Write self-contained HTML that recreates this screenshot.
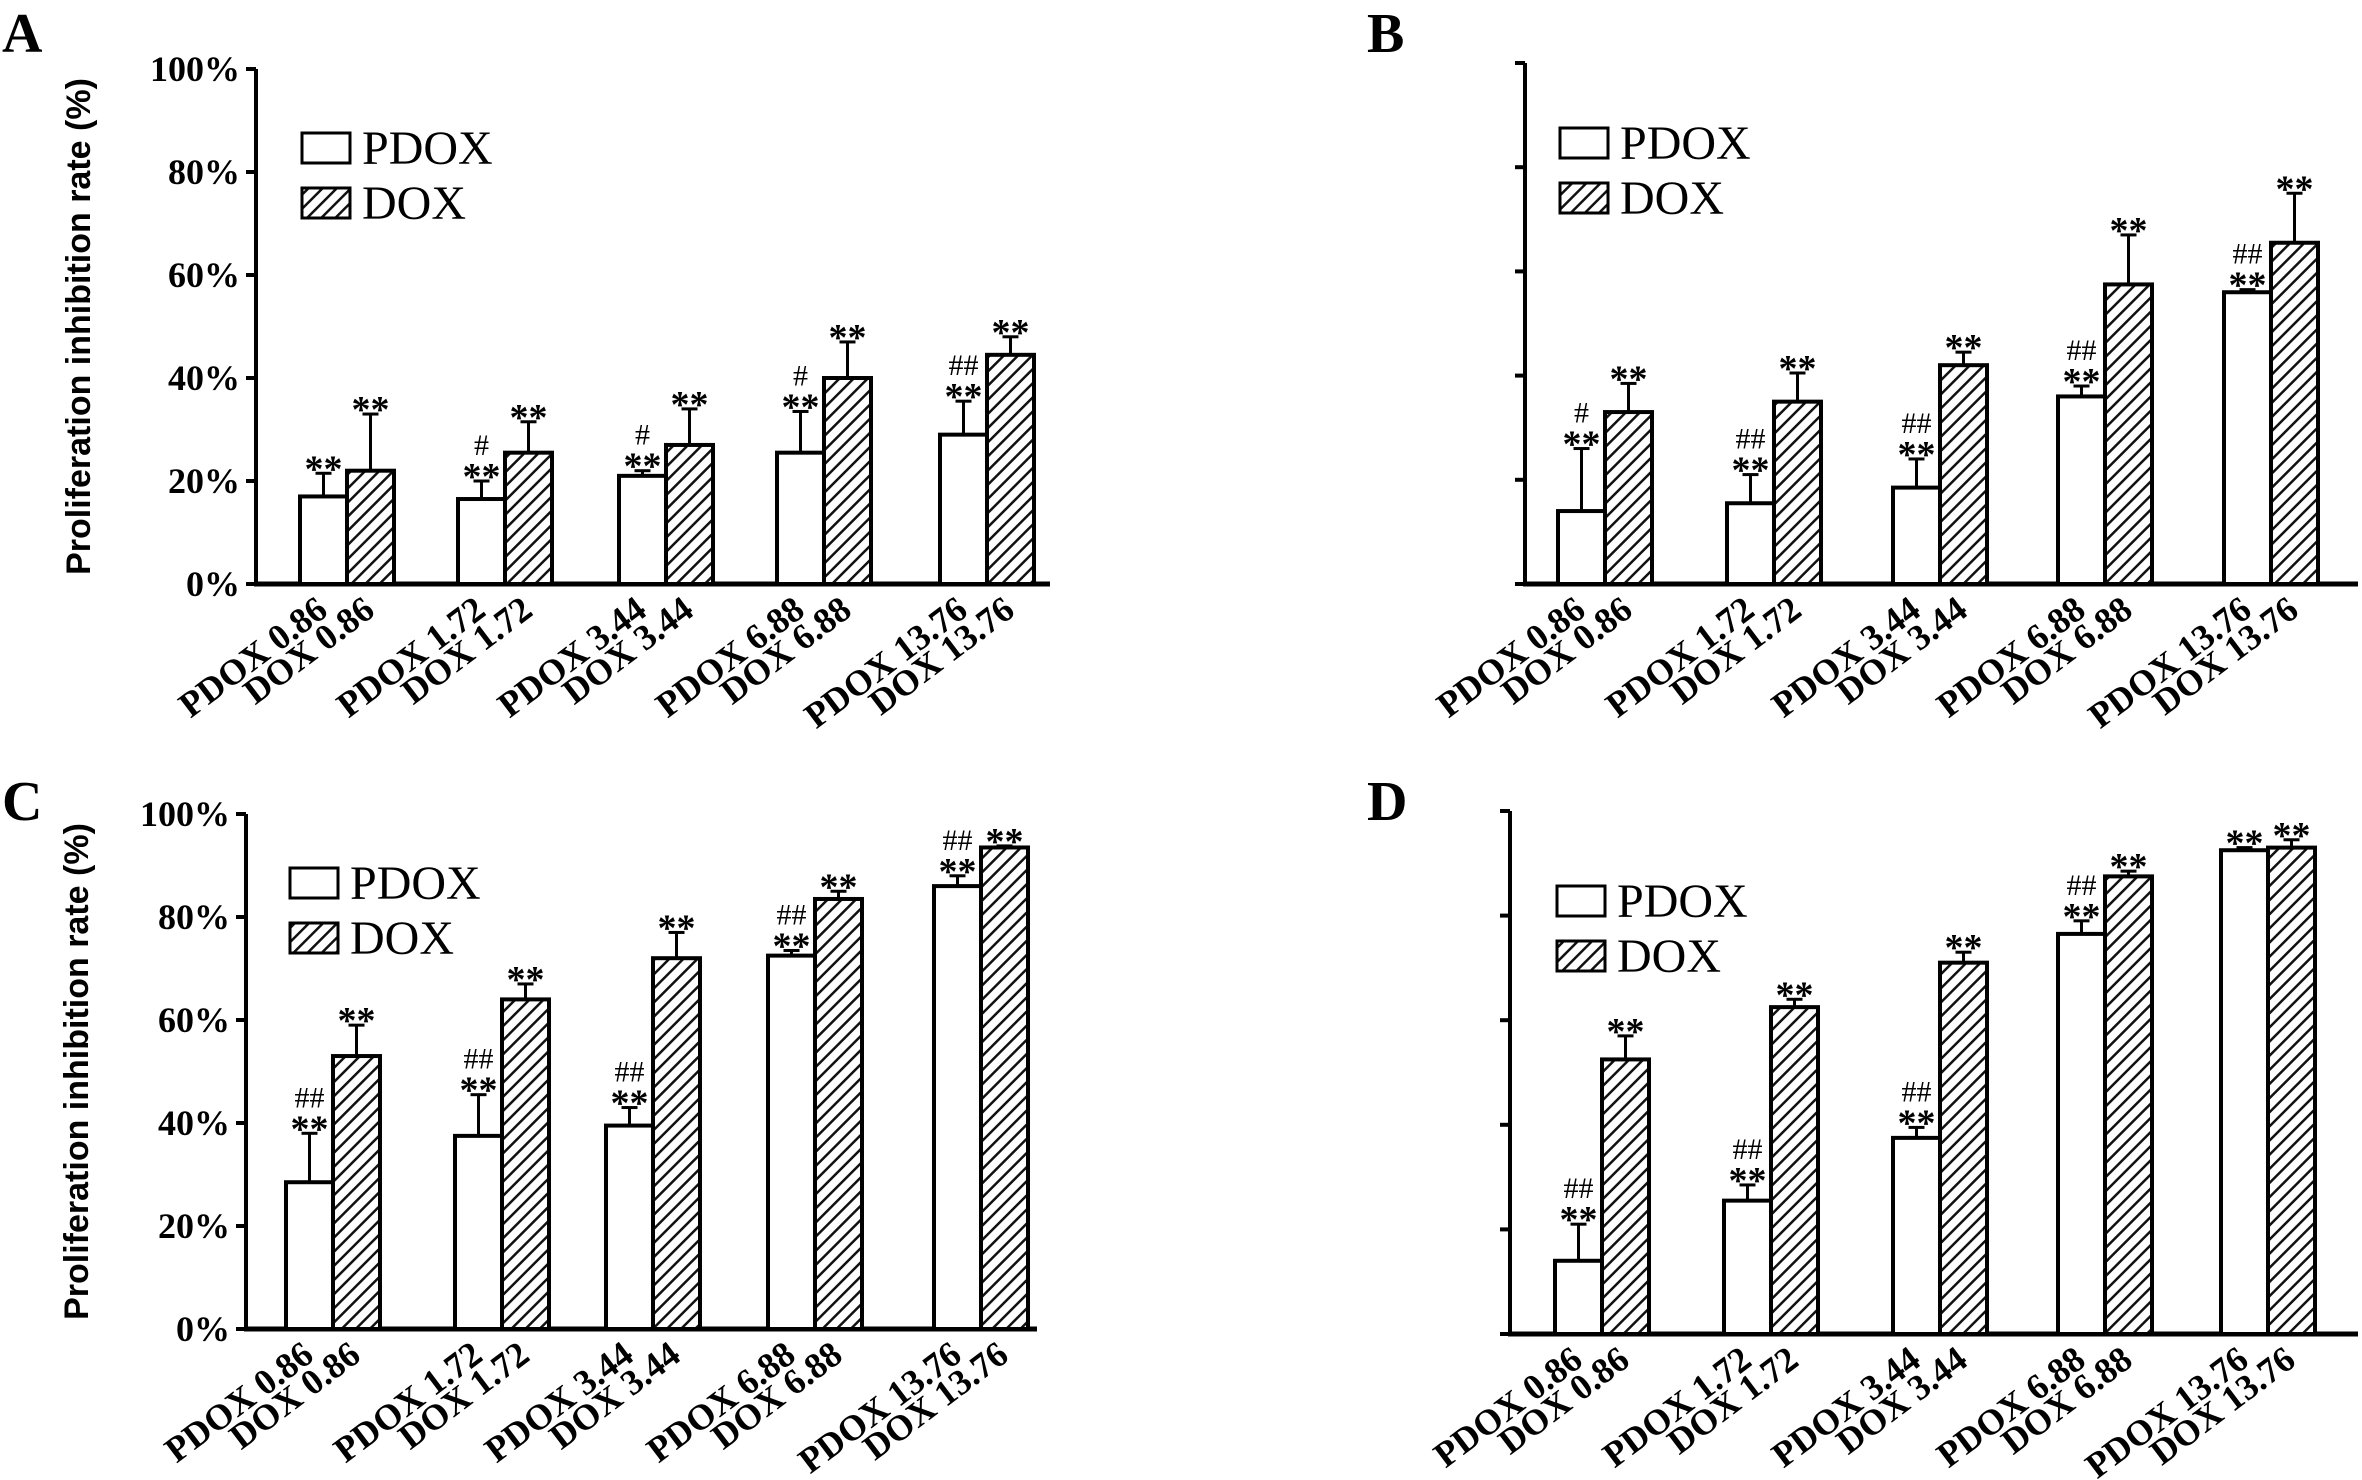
<!DOCTYPE html>
<html><head><meta charset="utf-8"><style>
html,body{margin:0;padding:0;background:#fff;}
svg{display:block;}
</style></head><body>
<svg id="fig" width="2362" height="1480" viewBox="0 0 2362 1480" xmlns="http://www.w3.org/2000/svg">
<defs>
<pattern id="hatch" patternUnits="userSpaceOnUse" width="10" height="10" patternTransform="rotate(45)">
<rect width="10" height="10" fill="#fff"/>
<line x1="0" y1="0" x2="0" y2="10" stroke="#111" stroke-width="5"/>
</pattern>
</defs>
</svg>
<script>
const categories = ["0.86","1.72","3.44","6.88","13.76"];
const tickLabels = ["0%","20%","40%","60%","80%","100%"];
const tickValues = [0,20,40,60,80,100];

const pdoxA = [17,16.5,21,25.5,29];
const pdoxErrA = [4.5,3.5,1,8,6.5];
const doxA = [22,25.5,27,40,44.5];
const doxErrA = [11,6,7,7,3.5];
const pdoxSigA = ["","#","#","#","##"];

const pdoxB = [14,15.5,18.5,36,56];
const pdoxErrB = [12,5.5,5.5,2,0.5];
const doxB = [33,35,42,57.5,65.5];
const doxErrB = [5.5,5.5,2.5,9.5,9.5];
const pdoxSigB = ["#","##","##","##","##"];

const pdoxC = [28.5,37.5,39.5,72.5,86];
const pdoxErrC = [9.5,8,3.5,1,2];
const doxC = [53,64,72,83.5,93.5];
const doxErrC = [6,3,5,1.5,0.3];
const pdoxSigC = ["##","##","##","##","##"];

const pdoxD = [14,25.5,37.5,76.5,92.5];
const pdoxErrD = [7,3,2,2.5,0.5];
const doxD = [52.5,62.5,71,87.5,93];
const doxErrD = [4.5,1.5,2,1,1.5];
const pdoxSigD = ["##","##","##","##",""];

const NS="http://www.w3.org/2000/svg";
const svg=document.getElementById('fig');
function mk(tag,attrs,parent){const e=document.createElementNS(NS,tag);for(const k in attrs)e.setAttribute(k,attrs[k]);(parent||svg).appendChild(e);return e;}

const panels=[
 {id:'a',letter:'A',lx:2,ly:52,ax:256,top:69,bot:584,xend:1050,centers:[347,505,666,824,987],pd:pdoxA,pe:pdoxErrA,dd:doxA,de:doxErrA,sig:pdoxSigA,labels:true,title:true,tx:90,legX:302,legY:133},
 {id:'b',letter:'B',lx:1367,ly:52,ax:1525,top:63,bot:584,xend:2358,centers:[1605,1774,1940,2105,2271],pd:pdoxB,pe:pdoxErrB,dd:doxB,de:doxErrB,sig:pdoxSigB,labels:false,title:false,legX:1560,legY:128},
 {id:'c',letter:'C',lx:2,ly:820,ax:246,top:814,bot:1329,xend:1037,centers:[333,502,653,815,981],pd:pdoxC,pe:pdoxErrC,dd:doxC,de:doxErrC,sig:pdoxSigC,labels:true,title:true,tx:88,legX:290,legY:868},
 {id:'d',letter:'D',lx:1367,ly:820,ax:1510,top:811,bot:1334,xend:2358,centers:[1602,1771,1940,2105,2268],pd:pdoxD,pe:pdoxErrD,dd:doxD,de:doxErrD,sig:pdoxSigD,labels:false,title:false,legX:1557,legY:886}
];
const BW=47;
panels.forEach(p=>{
 const g=mk('g',{});
 
 
 const y=v=>p.bot-(v/100)*(p.bot-p.top);
 const L=mk('text',{x:p.lx,y:p.ly,'font-family':'Liberation Serif, serif','font-weight':'bold','font-size':56},g);
 L.textContent=p.letter;
 
 
 const ya=mk('line',{x1:p.ax,y1:p.top,x2:p.ax,y2:p.bot,stroke:'#000','stroke-width':4},g);
 
 
 tickValues.forEach((t,i)=>{
  mk('line',{x1:p.ax-10,y1:y(t),x2:p.ax,y2:y(t),stroke:'#000','stroke-width':4},g);
  if(p.labels){
   const tl=mk('text',{x:p.ax-16,y:y(t)+12,'text-anchor':'end','font-family':'Liberation Serif, serif','font-weight':'bold','font-size':36},g);
   tl.textContent=tickLabels[i];
   
   
  }
 });
 const xa=mk('line',{x1:p.ax-2,y1:p.bot,x2:p.xend,y2:p.bot,stroke:'#000','stroke-width':5},g);
 
 
 if(p.title){
  const cy=(p.top+p.bot)/2;
  const t=mk('text',{x:p.tx,y:cy,'text-anchor':'middle','font-family':'Liberation Sans, sans-serif','font-weight':'bold','font-size':34,transform:`rotate(-90 ${p.tx} ${cy})`},g);
  t.textContent='Proliferation inhibition rate (%)';
  
  
 }
 p.centers.forEach((c,i)=>{
  const series=[{v:p.pd[i],e:p.pe[i],x:c-BW,fill:'#fff',name:'PDOX',sig:p.sig[i]},{v:p.dd[i],e:p.de[i],x:c,fill:'url(#hatch)',name:'DOX',sig:''}];
  series.forEach(s=>{
   const bx=s.x, cx=bx+BW/2, ty=y(s.v), ey=y(s.v+s.e);
   mk('line',{x1:cx,y1:ty,x2:cx,y2:ey,stroke:'#000','stroke-width':3},g);
   mk('line',{x1:cx-8,y1:ey,x2:cx+8,y2:ey,stroke:'#000','stroke-width':3},g);
   const r=mk('rect',{x:bx,y:ty,width:BW,height:p.bot-ty,fill:s.fill,stroke:'#000','stroke-width':4},g);
   
   
   let ay=ey-8;
   const st=mk('text',{x:cx,y:ay+16,'text-anchor':'middle','font-family':'Liberation Serif, serif','font-weight':'bold','font-size':38},g);
   st.textContent='**';
   
   
   if(s.sig){
    const h=mk('text',{x:cx,y:ay-18,'text-anchor':'middle','font-family':'Liberation Serif, serif','font-size':30},g);
    h.textContent=s.sig;
    
    
   }
   const lx=cx+6, ly=p.bot+30;
   const xl=mk('text',{x:lx,y:ly,'text-anchor':'end','font-family':'Liberation Serif, serif','font-weight':'bold','font-size':36,transform:`rotate(-37 ${lx} ${ly})`},g);
   xl.textContent=s.name+' '+categories[i];
   
   
  });
 });
 const lg=mk('g',{},g);
 
 
 mk('rect',{x:p.legX,y:p.legY,width:48,height:30,fill:'#fff',stroke:'#000','stroke-width':3},lg);
 const t1=mk('text',{x:p.legX+60,y:p.legY+31,'font-family':'Liberation Serif, serif','font-size':48},lg);
 t1.textContent='PDOX';
 
 
 mk('rect',{x:p.legX,y:p.legY+55,width:48,height:30,fill:'url(#hatch)',stroke:'#000','stroke-width':3},lg);
 const t2=mk('text',{x:p.legX+60,y:p.legY+86,'font-family':'Liberation Serif, serif','font-size':48},lg);
 t2.textContent='DOX';
 
 
});
</script>
</body></html>
